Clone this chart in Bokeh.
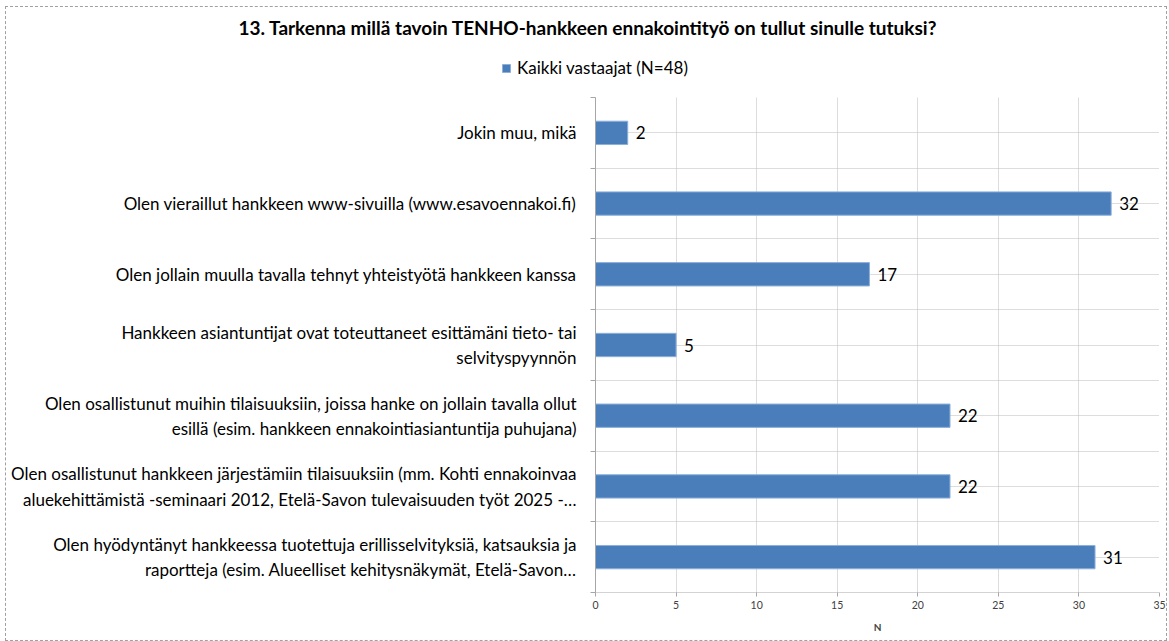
from bokeh.plotting import figure
from bokeh.layouts import column
from bokeh.models import ColumnDataSource, FixedTicker, Legend, LegendItem, Range1d
from bokeh.core.properties import value
from bokeh.embed import file_html
from bokeh.resources import INLINE

title_text = "13. Tarkenna millä tavoin TENHO-hankkeen ennakointityö on tullut sinulle tutuksi?"
series_name = "Kaikki vastaajat (N=48)"
categories = [
    "Jokin muu, mikä",
    "Olen vieraillut hankkeen www-sivuilla (www.esavoennakoi.fi)",
    "Olen jollain muulla tavalla tehnyt yhteistyötä hankkeen kanssa",
    "Hankkeen asiantuntijat ovat toteuttaneet esittämäni tieto- tai\nselvityspyynnön",
    "Olen osallistunut muihin tilaisuuksiin, joissa hanke on jollain tavalla ollut\nesillä (esim. hankkeen ennakointiasiantuntija puhujana)",
    "Olen osallistunut hankkeen järjestämiin tilaisuuksiin (mm. Kohti ennakoinvaa\naluekehittämistä -seminaari 2012, Etelä-Savon tulevaisuuden työt 2025 -…",
    "Olen hyödyntänyt hankkeessa tuotettuja erillisselvityksiä, katsauksia ja\nraportteja (esim. Alueelliset kehitysnäkymät, Etelä-Savon…",
]
values = [2, 32, 17, 5, 22, 22, 31]
x_ticks = [0, 5, 10, 15, 20, 25, 30, 35]

n = len(categories)
ypos = [n - 1 - i for i in range(n)]
src = ColumnDataSource(dict(y=ypos, v=values, lab=[str(v) for v in values]))

FONT = "Lato"
BAR = "#4A7EBB"
BAR_LINE = "#8DB0DA"
GRID = "#BBBBBB"

W = 1160
HEAD_H = 84
MAIN_H = 544

# ---------- header: title + legend ----------
head = figure(width=W, height=HEAD_H, output_backend="svg", toolbar_location=None,
              x_range=Range1d(-2, -1), y_range=Range1d(0, 1),
              x_axis_location=None, y_axis_location=None,
              min_border_left=0, min_border_right=0, min_border_bottom=0, min_border_top=26,
              margin=(5, 0, 0, 0))
head.frame_align = False
head.grid.visible = False
head.outline_line_color = None
head.border_fill_color = "white"
head.background_fill_color = "white"
head.title.text = title_text
head.title.align = "left"
head.title.offset = 232
head.title.standoff = 0
head.title.text_font = FONT
head.title.text_font_size = "19px"
head.title.text_font_style = "bold"
head.title.text_color = "#000000"

# legend proxy: same data, drawn outside the header's visible x-range
proxy = head.hbar(y="y", right="v", left=0, height=0.33, source=src,
                  fill_color=BAR, line_color=BAR_LINE)
legend = Legend(items=[LegendItem(label=series_name, renderers=[proxy])],
                orientation="horizontal", location=(495, 18),
                glyph_width=10, glyph_height=10, label_text_font=FONT,
                label_text_font_size="17px", label_text_color="#000000",
                border_line_color=None, background_fill_alpha=0,
                padding=2, margin=0, label_standoff=6)
head.add_layout(legend, "center")

# ---------- main chart ----------
p = figure(width=W, height=MAIN_H, output_backend="svg", toolbar_location=None,
           x_range=Range1d(0, 35), y_range=Range1d(-0.5, n - 0.5),
           min_border_left=589, min_border_right=7, min_border_bottom=48, min_border_top=1)
p.frame_align = False
p.outline_line_color = None
p.background_fill_color = "white"
p.border_fill_color = "white"

r = p.hbar(y="y", right="v", left=0, height=0.33, source=src,
           fill_color=BAR, line_color=BAR_LINE, line_width=1)

p.text(x="v", y="y", text="lab", source=src, x_offset=8, text_baseline="middle",
       text_align="left", text_font=value(FONT), text_font_size="17px", text_color="#000000")

# x axis
p.xaxis.ticker = FixedTicker(ticks=x_ticks)
p.xaxis.axis_label = "N"
p.xaxis.axis_label_text_font = FONT
p.xaxis.axis_label_text_font_size = "10px"
p.xaxis.axis_label_text_font_style = "bold"
p.xaxis.axis_label_standoff = 9
p.xaxis.major_label_text_font = FONT
p.xaxis.major_label_text_font_size = "10.5px"
p.xaxis.major_label_text_color = "#404040"
p.xaxis.axis_line_color = "#A6A6A6"
p.xaxis.axis_line_dash = "1 1"
p.xaxis.major_tick_line_color = "#A6A6A6"
p.xaxis.major_tick_out = 4
p.xaxis.major_tick_in = 0
p.xaxis.minor_tick_line_color = None
p.xaxis.major_label_standoff = 4

# y axis: labels at band centres, ticks at band boundaries
centres = list(range(n))
bounds = [i - 0.5 for i in range(n + 1)]
p.yaxis.ticker = FixedTicker(ticks=centres, minor_ticks=bounds)
p.yaxis.major_label_overrides = {yy: categories[i] for i, yy in enumerate(ypos)}
p.yaxis.major_label_text_font = FONT
p.yaxis.major_label_text_font_size = "17px"
p.yaxis.major_label_text_color = "#000000"
p.yaxis.major_label_text_align = "center"
p.yaxis.major_tick_out = 0
p.yaxis.major_tick_in = 0
p.yaxis.minor_tick_out = 5
p.yaxis.minor_tick_in = 0
p.yaxis.minor_tick_line_color = "#A6A6A6"
p.yaxis.axis_line_color = "#A6A6A6"
p.yaxis.major_label_standoff = 14

# grids
p.xgrid.ticker = FixedTicker(ticks=x_ticks)
p.xgrid.grid_line_color = GRID
p.xgrid.grid_line_dash = "1 1"
p.ygrid.ticker = FixedTicker(ticks=sorted(centres + bounds))
p.ygrid.grid_line_color = GRID
p.ygrid.grid_line_dash = "1 1"

layout = column(head, p, spacing=0, margin=(7, 0, 0, 6))
layout.styles = {"outline": "1px dashed #A0A0A0", "outline-offset": "0px"}

open("out.html", "w").write(file_html(layout, INLINE))
